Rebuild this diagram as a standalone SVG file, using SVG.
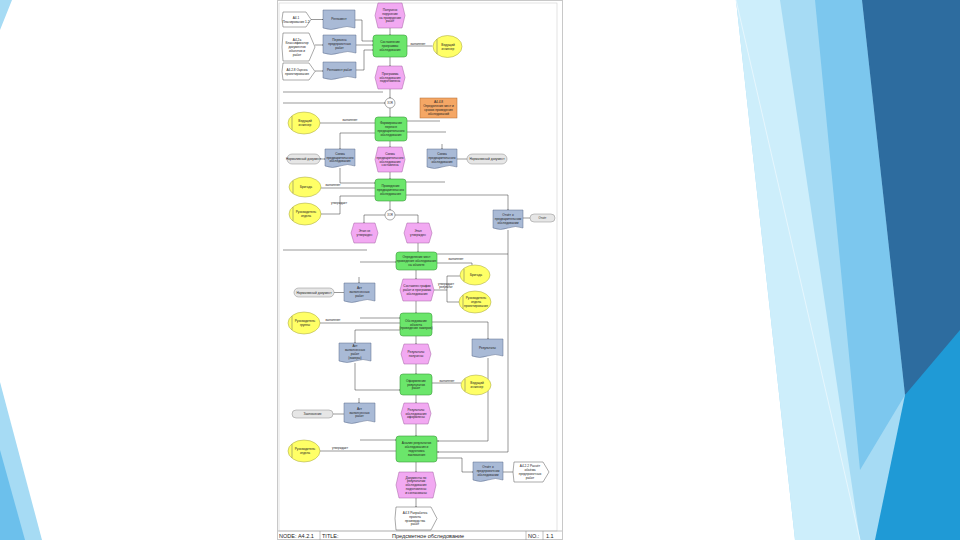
<svg xmlns="http://www.w3.org/2000/svg" width="960" height="540" viewBox="0 0 960 540">
<defs>
<marker id="ah" viewBox="0 0 6 6" refX="6" refY="3" markerWidth="3" markerHeight="3" orient="auto"><path d="M0,0 L6,3 L0,6 Z" fill="#333"/></marker>
<style>
text{font-family:"Liberation Sans",Arial,sans-serif;fill:#222;text-anchor:middle}
.t{font-size:3.2px}
.l{font-size:3px}
.b{font-size:5.5px;text-anchor:start}
.fn{fill:#6be66b;stroke:#3a9a3a;stroke-width:.6}
.ev{fill:#f2a9f2;stroke:#a060a0;stroke-width:.5}
.org{fill:#ffff66;stroke:#a0a040;stroke-width:.5}
.doc{fill:#a9bad6;stroke:#5a6a8a;stroke-width:.5}
.pill{fill:#e6e6e6;stroke:#888;stroke-width:.5}
.pi{fill:#fff;stroke:#555;stroke-width:.5}
.or{fill:#f5a765;stroke:#b06a30;stroke-width:.5}
.c{fill:none;stroke:#333;stroke-width:.5}
.a{fill:none;stroke:#333;stroke-width:.5;marker-end:url(#ah)}
.x{fill:#fff;stroke:#555;stroke-width:.5}
</style>
</defs>
<rect width="960" height="540" fill="#fff"/>
<g id="decor">
<polygon points="0,0 12,0 0,30" fill="#a6dbf4"/>
<polygon points="0,382 42,540 0,540" fill="#a6dbf4"/>
<polygon points="0,450 25,540 0,540" fill="#6cc0ec"/>
<polygon points="736,0 960,0 960,540 795,540" fill="#a6dbf4"/>
<polygon points="736,0 780,0 860,540 795,540" fill="#cdeefb"/>
<polygon points="815,0 862,0 905,395 860,470" fill="#7cc7ee"/>
<polygon points="862,0 960,0 960,370 905,395" fill="#2d6c9f"/>
<polygon points="905,395 960,330 960,540 875,540" fill="#1f9ad6"/>
<line x1="736" y1="0" x2="860" y2="540" stroke="#e6f6fd" stroke-width="1"/>
</g>
<g id="page">
<rect x="277.5" y="0.5" width="285" height="539" fill="#fff" stroke="#c8c8c8"/>
<rect x="279" y="3" width="278" height="528" fill="none" stroke="#d0d0d0" stroke-width=".6"/>
<line x1="278" y1="531" x2="562" y2="531" stroke="#999" stroke-width=".6"/>
<line x1="320" y1="531" x2="320" y2="540" stroke="#999" stroke-width=".6"/>
<line x1="526" y1="531" x2="526" y2="540" stroke="#999" stroke-width=".6"/>
<line x1="543" y1="531" x2="543" y2="540" stroke="#999" stroke-width=".6"/>
<text class="b" x="279" y="537.5">NODE: А4.2.1</text>
<text class="b" x="322" y="537.5">TITLE:</text>
<text class="b" x="392" y="537.5">Предсметное обследование</text>
<text class="b" x="528" y="537.5">NO.:</text>
<text class="b" x="546" y="537.5">1.1</text>
</g>
<g id="connectors">
<path class="a" d="M311,19.5 H323"/>
<path class="a" d="M315,45 H323"/>
<path class="a" d="M315,71 H323"/>
<path class="a" d="M355,20 H362 V41 H373"/>
<path class="a" d="M356,45 H373"/>
<path class="a" d="M356,70 H364 V50 H373"/>
<path class="a" d="M390,28 V35"/>
<path class="c" d="M407,46 H432.5"/>
<path class="a" d="M390,57 V66"/>
<path class="a" d="M390,89 V98"/>
<path class="c" d="M283,92 H383"/>
<path class="a" d="M283,103 H385"/>
<path class="a" d="M390,108 V117"/>
<path class="c" d="M320,123 H375"/>
<path class="c" d="M407,121 H440"/>
<path class="c" d="M407,132 H446"/>
<path class="a" d="M375,133 H340 V149"/>
<path class="a" d="M320,159 H325"/>
<path class="a" d="M390,141 V147"/>
<path class="a" d="M390,172 V179"/>
<path class="a" d="M442,144 V149"/>
<path class="c" d="M457,159 H467"/>
<path class="a" d="M340,168 V183 H375"/>
<path class="c" d="M321,188 H375"/>
<path class="c" d="M321,214 H340 V196 H375"/>
<path class="c" d="M406,182 H445"/>
<path class="a" d="M406,195 H508 V210"/>
<path class="c" d="M523,218 H530"/>
<path class="a" d="M508,230 V452 H437"/>
<path class="a" d="M390,201 V210"/>
<path class="a" d="M385,215 H364 V223"/>
<path class="a" d="M395,215 H418 V223"/>
<path class="a" d="M418,243 V252"/>
<path class="c" d="M283,250 H367"/>
<path class="a" d="M360,262 H396"/>
<path class="c" d="M437,254 H508"/>
<path class="c" d="M437,263 H472 V265"/>
<path class="c" d="M434,290 H447"/>
<path class="c" d="M460,276 H447 V302 H459"/>
<path class="a" d="M416,270 V279"/>
<path class="a" d="M359,277 V283"/>
<path class="c" d="M334,292.5 H344"/>
<path class="c" d="M320,323 H400"/>
<path class="a" d="M360,318 H400"/>
<path class="a" d="M416,301 V313"/>
<path class="a" d="M400,330 H355 V343"/>
<path class="a" d="M432,322 H488 V339"/>
<path class="a" d="M488,358 V441 H437"/>
<path class="a" d="M416,336 V344"/>
<path class="a" d="M416,364 V374"/>
<path class="a" d="M355,363 V390 H400"/>
<path class="c" d="M432,383 H461"/>
<path class="a" d="M416,395 V403"/>
<path class="a" d="M359,398 V403"/>
<path class="c" d="M333,414 H344"/>
<path class="a" d="M416,424 V436"/>
<path class="c" d="M320,451 H396"/>
<path class="a" d="M360,440 H396"/>
<path class="a" d="M416,462 V472"/>
<path class="a" d="M416,498 V507"/>
<path class="a" d="M437,458 H462 V472 H473"/>
<path class="a" d="M503,472 H514"/>
<text class="l" x="418" y="44.5">выполняет</text>
<text class="l" x="350" y="120.5">выполняет</text>
<text class="l" x="333" y="185.5">выполняет</text>
<text class="l" x="339" y="204">утверждает</text>
<text class="l" x="456" y="260">выполняет</text>
<text class="l" x="446"><tspan x="446" y="284.5">утверждает</tspan><tspan x="446" y="288">результат</tspan></text>
<text class="l" x="333" y="321">выполняет</text>
<text class="l" x="447" y="381.5">выполняет</text>
<text class="l" x="340" y="449">утверждает</text>
</g>
<g id="pi1"><path class="pi" d="M283,12 H306 L311,19.5 L306,27 H283 Q281,19.5 283,12 Z"/><text class="t"><tspan x="296" y="18.7">А4.1</tspan><tspan x="296" y="22.5">Планирование 1.2</tspan></text></g>
<g id="doc1"><path class="doc" d="M323,10 H355 V28 Q347,25 339,28 T323,28 Z"/><text class="t" x="339" y="20.1">Регламент</text></g>
<g id="pi2"><path class="pi" d="M283,33 H309 L315,47 L309,61 H283 Q281,47 283,33 Z"/><text class="t"><tspan x="297" y="40.5">А4.2а</tspan><tspan x="297" y="44.3">Классификатор</tspan><tspan x="297" y="48.1">документов</tspan><tspan x="297" y="51.9">объектов и</tspan><tspan x="297" y="55.7">работ</tspan></text></g>
<g id="doc2"><path class="doc" d="M323,35 H356 V53 Q347.75,50 339.5,53 T323,53 Z"/><text class="t"><tspan x="339.5" y="41.3">Перечень</tspan><tspan x="339.5" y="45.1">предпроектных</tspan><tspan x="339.5" y="48.9">работ</tspan></text></g>
<g id="pi3"><path class="pi" d="M283,63 H309 L315,71.5 L309,80 H283 Q281,71.5 283,63 Z"/><text class="t"><tspan x="297" y="70.7">А4.2.8 Оценка</tspan><tspan x="297" y="74.5">проектирования</tspan></text></g>
<g id="doc3"><path class="doc" d="M323,62 H356 V78 Q347.75,75 339.5,78 T323,78 Z"/><text class="t" x="339.5" y="71.1">Регламент работ</text></g>
<g id="ev1"><path class="ev" d="M378,3 H402 L405,15.5 L402,28 H378 L375,15.5 Z"/><text class="t"><tspan x="390" y="10.9">Получено</tspan><tspan x="390" y="14.7">поручение</tspan><tspan x="390" y="18.5">на проведение</tspan><tspan x="390" y="22.3">работ</tspan></text></g>
<g id="fn1"><rect class="fn" x="373" y="35" width="34" height="22" rx="3"/><text class="t"><tspan x="390" y="43.3">Составление</tspan><tspan x="390" y="47.1">программы</tspan><tspan x="390" y="50.9">обследования</tspan></text></g>
<g id="org1"><ellipse class="org" cx="447.5" cy="46.5" rx="14.5" ry="11"/><line x1="437" y1="39" x2="437" y2="54" stroke="#666" stroke-width=".5"/><text class="t"><tspan x="448" y="45.7">Ведущий</tspan><tspan x="448" y="49.5">инженер</tspan></text></g>
<g id="ev2"><path class="ev" d="M378,66 H402 L405,77.5 L402,89 H378 L375,77.5 Z"/><text class="t"><tspan x="390" y="74.8">Программа</tspan><tspan x="390" y="78.6">обследования</tspan><tspan x="390" y="82.4">подготовлена</tspan></text></g>
<g id="xor1"><circle class="x" cx="390" cy="103" r="5"/><text style="font-size:2.6px" x="390" y="104">XOR</text></g>
<g id="or1"><rect class="or" x="420" y="98" width="37" height="20"/><text class="t"><tspan x="438.5" y="103.4">А4.4.8</tspan><tspan x="438.5" y="107.2">Определение мест и</tspan><tspan x="438.5" y="111">сроков проведения</tspan><tspan x="438.5" y="114.8">обследований</tspan></text></g>
<g id="fn2"><rect class="fn" x="375" y="117" width="32" height="24" rx="3"/><text class="t"><tspan x="391" y="124.4">Формирование</tspan><tspan x="391" y="128.2">перечня</tspan><tspan x="391" y="132">предварительного</tspan><tspan x="391" y="135.8">обследования</tspan></text></g>
<g id="org2"><ellipse class="org" cx="304" cy="123" rx="16" ry="11"/><line x1="292" y1="116" x2="292" y2="130" stroke="#666" stroke-width=".5"/><text class="t"><tspan x="305" y="122.2">Ведущий</tspan><tspan x="305" y="126">инженер</tspan></text></g>
<g id="doc4"><path class="doc" d="M325,149 H355 V166 Q347.5,163 340,166 T325,166 Z"/><text class="t"><tspan x="340" y="154.8">Схема</tspan><tspan x="340" y="158.6">предварительного</tspan><tspan x="340" y="162.4">обследования</tspan></text></g>
<g id="pill1"><rect class="pill" x="287" y="154" width="33" height="10" rx="5"/><text class="t" x="303.5" y="160.1">Нормативный документ</text></g>
<g id="ev3"><path class="ev" d="M378,147 H402 L405,159.5 L402,172 H378 L375,159.5 Z"/><text class="t"><tspan x="390" y="154.9">Схема</tspan><tspan x="390" y="158.7">предварительного</tspan><tspan x="390" y="162.5">обследования</tspan><tspan x="390" y="166.3">составлена</tspan></text></g>
<g id="doc5"><path class="doc" d="M427,149 H457 V167 Q449.5,164 442,167 T427,167 Z"/><text class="t"><tspan x="442" y="155.3">Схема</tspan><tspan x="442" y="159.1">предварительного</tspan><tspan x="442" y="162.9">обследования</tspan></text></g>
<g id="pill2"><rect class="pill" x="467" y="154" width="40" height="10" rx="5"/><text class="t" x="487" y="160.1">Нормативный документ</text></g>
<g id="fn3"><rect class="fn" x="375" y="179" width="31" height="22" rx="3"/><text class="t"><tspan x="390.5" y="187.3">Проведение</tspan><tspan x="390.5" y="191.1">предварительного</tspan><tspan x="390.5" y="194.9">обследования</tspan></text></g>
<g id="org3"><ellipse class="org" cx="305" cy="187" rx="16" ry="10"/><line x1="293" y1="180.5" x2="293" y2="193.5" stroke="#666" stroke-width=".5"/><text class="t" x="306" y="188.1">Бригада</text></g>
<g id="org4"><ellipse class="org" cx="305" cy="214" rx="16" ry="11"/><line x1="293" y1="207" x2="293" y2="221" stroke="#666" stroke-width=".5"/><text class="t"><tspan x="306" y="213.2">Руководитель</tspan><tspan x="306" y="217">отдела</tspan></text></g>
<g id="doc6"><path class="doc" d="M493,210 H523 V228 Q515.5,225 508,228 T493,228 Z"/><text class="t"><tspan x="508" y="216.3">Отчёт о</tspan><tspan x="508" y="220.1">предварительном</tspan><tspan x="508" y="223.9">обследовании</tspan></text></g>
<g id="pill3"><rect class="pill" x="530" y="214" width="25" height="8" rx="4"/><text style="font-size:2.8px" x="542.5" y="219">Отчёт</text></g>
<g id="xor2"><circle class="x" cx="390" cy="215" r="5"/><text style="font-size:2.6px" x="390" y="216">XOR</text></g>
<g id="ev4"><path class="ev" d="M354,223 H375 L378,233 L375,243 H354 L351,233 Z"/><text class="t"><tspan x="364.5" y="232.2">Этап не</tspan><tspan x="364.5" y="236">утвержден</tspan></text></g>
<g id="ev5"><path class="ev" d="M407,223 H429 L432,233 L429,243 H407 L404,233 Z"/><text class="t"><tspan x="418" y="232.2">Этап</tspan><tspan x="418" y="236">утвержден</tspan></text></g>
<g id="fn4"><rect class="fn" x="396" y="252" width="41" height="18" rx="3"/><text class="t"><tspan x="416.5" y="258.3">Определение мест</tspan><tspan x="416.5" y="262.1">проведения обследования</tspan><tspan x="416.5" y="265.9">на объекте</tspan></text></g>
<g id="org5"><ellipse class="org" cx="475" cy="275" rx="15" ry="10"/><line x1="464" y1="268.5" x2="464" y2="281.5" stroke="#666" stroke-width=".5"/><text class="t" x="476" y="276.1">Бригада</text></g>
<g id="org6"><ellipse class="org" cx="475" cy="302" rx="16" ry="11"/><line x1="463" y1="295" x2="463" y2="309" stroke="#666" stroke-width=".5"/><text class="t"><tspan x="476" y="299.3">Руководитель</tspan><tspan x="476" y="303.1">отдела</tspan><tspan x="476" y="306.9">проектирования</tspan></text></g>
<g id="ev6"><path class="ev" d="M403,279 H431 L434,290 L431,301 H403 L400,290 Z"/><text class="t"><tspan x="417" y="287.3">Составлен график</tspan><tspan x="417" y="291.1">работ и программа</tspan><tspan x="417" y="294.9">обследования</tspan></text></g>
<g id="doc7"><path class="doc" d="M344,283 H375 V301 Q367.25,298 359.5,301 T344,301 Z"/><text class="t"><tspan x="359.5" y="289.3">Акт</tspan><tspan x="359.5" y="293.1">выполненных</tspan><tspan x="359.5" y="296.9">работ</tspan></text></g>
<g id="pill4"><rect class="pill" x="294" y="288" width="40" height="9" rx="4.5"/><text class="t" x="314" y="293.6">Нормативный документ</text></g>
<g id="org7"><ellipse class="org" cx="304" cy="323" rx="16" ry="11"/><line x1="292" y1="316" x2="292" y2="330" stroke="#666" stroke-width=".5"/><text class="t"><tspan x="305" y="322.2">Руководитель</tspan><tspan x="305" y="326">группы</tspan></text></g>
<g id="fn5"><rect class="fn" x="400" y="313" width="32" height="23" rx="3"/><text class="t"><tspan x="416" y="321.8">Обследование</tspan><tspan x="416" y="325.6">объекта</tspan><tspan x="416" y="329.4">(проведение замеров)</tspan></text></g>
<g id="doc8"><path class="doc" d="M339,343 H371 V361 Q363,358 355,361 T339,361 Z"/><text class="t"><tspan x="355" y="347.4">Акт</tspan><tspan x="355" y="351.2">выполненных</tspan><tspan x="355" y="355">работ</tspan><tspan x="355" y="358.8">(замеры)</tspan></text></g>
<g id="doc9"><path class="doc" d="M472,339 H503 V356 Q495.25,353 487.5,356 T472,356 Z"/><text class="t" x="487.5" y="348.6">Результаты</text></g>
<g id="ev7"><path class="ev" d="M404,344 H428 L431,354 L428,364 H404 L401,354 Z"/><text class="t"><tspan x="416" y="353.2">Результаты</tspan><tspan x="416" y="357">получены</tspan></text></g>
<g id="fn6"><rect class="fn" x="400" y="374" width="32" height="21" rx="3"/><text class="t"><tspan x="416" y="381.8">Оформление</tspan><tspan x="416" y="385.6">результатов</tspan><tspan x="416" y="389.4">работ</tspan></text></g>
<g id="org8"><ellipse class="org" cx="476" cy="385" rx="15" ry="10"/><line x1="465" y1="378.5" x2="465" y2="391.5" stroke="#666" stroke-width=".5"/><text class="t"><tspan x="477" y="384.2">Ведущий</tspan><tspan x="477" y="388">инженер</tspan></text></g>
<g id="ev8"><path class="ev" d="M404,403 H428 L431,413.5 L428,424 H404 L401,413.5 Z"/><text class="t"><tspan x="416" y="410.8">Результаты</tspan><tspan x="416" y="414.6">обследования</tspan><tspan x="416" y="418.4">оформлены</tspan></text></g>
<g id="doc10"><path class="doc" d="M344,403 H375 V422 Q367.25,419 359.5,422 T344,422 Z"/><text class="t"><tspan x="359.5" y="409.8">Акт</tspan><tspan x="359.5" y="413.6">выполненных</tspan><tspan x="359.5" y="417.4">работ</tspan></text></g>
<g id="pill5"><rect class="pill" x="292" y="410" width="41" height="8" rx="4"/><text class="t" x="312.5" y="415.1">Заключение</text></g>
<g id="org9"><ellipse class="org" cx="304" cy="451" rx="16" ry="11"/><line x1="292" y1="444" x2="292" y2="458" stroke="#666" stroke-width=".5"/><text class="t"><tspan x="305" y="450.2">Руководитель</tspan><tspan x="305" y="454">отдела</tspan></text></g>
<g id="fn7"><rect class="fn" x="396" y="436" width="41" height="26" rx="3"/><text class="t"><tspan x="416.5" y="444.4">Анализ результатов</tspan><tspan x="416.5" y="448.2">обследования и</tspan><tspan x="416.5" y="452">подготовка</tspan><tspan x="416.5" y="455.8">заключения</tspan></text></g>
<g id="ev9"><path class="ev" d="M399,472 H433 L436,485 L433,498 H399 L396,485 Z"/><text class="t"><tspan x="416" y="478.5">Документы по</tspan><tspan x="416" y="482.3">результатам</tspan><tspan x="416" y="486.1">обследования</tspan><tspan x="416" y="489.9">подготовлены</tspan><tspan x="416" y="493.7">и согласованы</tspan></text></g>
<g id="pi4"><path class="pi" d="M396,507 H431 L437,518.5 L431,530 H396 Q394,518.5 396,507 Z"/><text class="t"><tspan x="415" y="513.9">А4.3 Разработка</tspan><tspan x="415" y="517.7">проекта</tspan><tspan x="415" y="521.5">производства</tspan><tspan x="415" y="525.3">работ</tspan></text></g>
<g id="doc11"><path class="doc" d="M473,462 H503 V480 Q495.5,477 488,480 T473,480 Z"/><text class="t"><tspan x="488" y="468.3">Отчёт о</tspan><tspan x="488" y="472.1">предпроектном</tspan><tspan x="488" y="475.9">обследовании</tspan></text></g>
<g id="pi5"><path class="pi" d="M514,462 H543 L549,472 L543,482 H514 Q512,472 514,462 Z"/><text class="t"><tspan x="530" y="467.4">А4.2.2 Расчёт</tspan><tspan x="530" y="471.2">объёма</tspan><tspan x="530" y="475">предпроектных</tspan><tspan x="530" y="478.8">работ</tspan></text></g>
</svg>
